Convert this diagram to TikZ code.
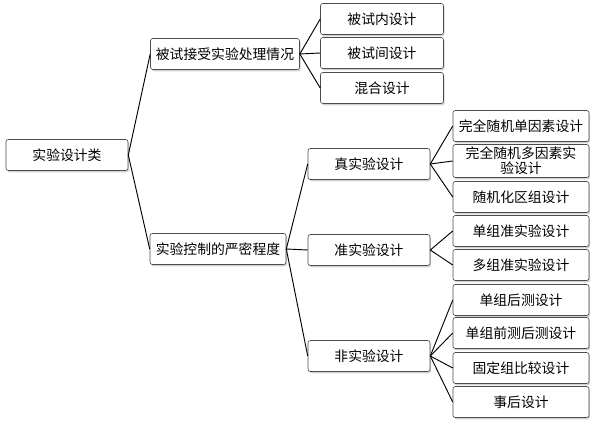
\documentclass[tikz,border=0pt]{standalone}
\usepackage{fontspec}
\setmainfont{Noto Sans CJK SC}
\usetikzlibrary{shadows}
\tikzset{
  box/.style={draw=black!70, rounded corners=2pt, fill=white, line width=0.5pt,
    drop shadow={shadow xshift=1pt, shadow yshift=-1.5pt, fill=black!35},
    minimum height=0.93cm, inner sep=1pt, align=center,
    font=\fontsize{11.8}{13}\selectfont},
  link/.style={line width=0.8pt}
}
\begin{document}
\begin{tikzpicture}[x=0.03cm, y=-0.03cm]
\useasboundingbox (0,0) rectangle (600,429);

% root and second level
\node[box, minimum width=3.66cm] (root) at (67,155) {实验设计类};
\node[box, minimum width=4.47cm] (recv) at (225,54) {被试接受实验处理情况};
\node[box, minimum width=4.08cm] (ctrl) at (218,249) {实验控制的严密程度};

% third level
\node[box, minimum width=3.69cm] (within) at (382,19) {被试内设计};
\node[box, minimum width=3.69cm] (between) at (382,53) {被试间设计};
\node[box, minimum width=3.69cm] (mixed) at (382,88) {混合设计};
\node[box, minimum width=3.66cm] (true) at (369,164) {真实验设计};
\node[box, minimum width=3.66cm] (quasi) at (369,250) {准实验设计};
\node[box, minimum width=3.66cm] (non) at (369,356) {非实验设计};

% leaves
\node[box, minimum width=4.08cm] (t1) at (521,126) {完全随机单因素设计};
\node[box, minimum width=4.08cm, minimum height=0.99cm] (t2) at (521,161) {完全随机多因素实\\验设计};
\node[box, minimum width=4.08cm] (t3) at (521,197) {随机化区组设计};
\node[box, minimum width=4.08cm] (q1) at (521,231) {单组准实验设计};
\node[box, minimum width=4.08cm] (q2) at (521,265) {多组准实验设计};
\node[box, minimum width=4.08cm] (n1) at (521,300) {单组后测设计};
\node[box, minimum width=4.08cm] (n2) at (521,333) {单组前测后测设计};
\node[box, minimum width=4.08cm] (n3) at (521,368) {固定组比较设计};
\node[box, minimum width=4.08cm] (n4) at (521,402) {事后设计};

% connectors
\foreach \a/\b in {root/recv, root/ctrl, recv/within, recv/between, recv/mixed,
    ctrl/true, ctrl/quasi, ctrl/non, true/t1, true/t2, true/t3, quasi/q1, quasi/q2,
    non/n1, non/n2, non/n3, non/n4}
  \draw[link] (\a.east) -- (\b.west);
\end{tikzpicture}
\end{document}
